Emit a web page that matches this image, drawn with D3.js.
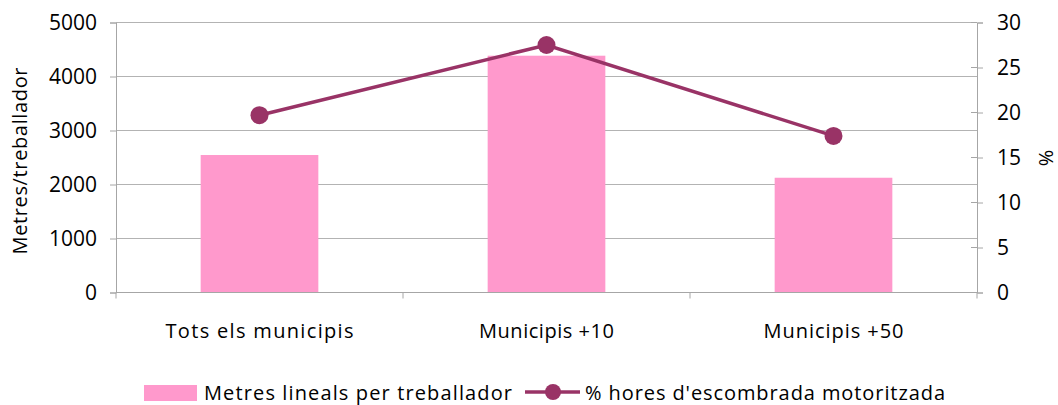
<!DOCTYPE html>
<html>
<head>
  <meta charset="utf-8">
  <script src="https://d3js.org/d3.v7.min.js"></script>
  <style>
    body { margin: 0; background: #fff; }
    svg { font-family: "Open Sans", "Noto Sans", sans-serif; }
  </style>
</head>
<body>
  <svg width="1058" height="405"></svg>
  <script>
    // dades
    const categories = ["Tots els municipis", "Municipis +10", "Municipis +50"];
    const metres = [2546, 4385, 2125];
    const percent = [19.7, 27.5, 17.4];
    const leftTicks = [0, 1000, 2000, 3000, 4000, 5000];
    const rightTicks = [0, 5, 10, 15, 20, 25, 30];
    const catWidths = [188, 135, 140];

    const svg = d3.select("svg");
    const x0 = 116, x1 = 977, yTop = 22.5, yBot = 292.5;

    const x = d3.scaleBand().domain(categories).range([x0, x1]).paddingInner(0.59).paddingOuter(0.295);
    const yL = d3.scaleLinear().domain([0, 5000]).range([yBot, yTop]);
    const yR = d3.scaleLinear().domain([0, 30]).range([yBot, yTop]);

    // gridlines
    svg.append("g").selectAll("line").data(leftTicks).join("line")
      .attr("x1", x0).attr("x2", x1)
      .attr("y1", d => yL(d)).attr("y2", d => yL(d))
      .attr("stroke", "#b3b3b3").attr("stroke-width", 1);

    // bars
    svg.append("g").selectAll("rect").data(metres).join("rect")
      .attr("x", (d, i) => x(categories[i]))
      .attr("width", x.bandwidth())
      .attr("y", d => yL(d))
      .attr("height", d => yBot - yL(d))
      .attr("fill", "#ff99cc");

    // axes
    const gL = svg.append("g").attr("transform", `translate(${x0},0)`)
      .call(d3.axisLeft(yL).tickValues(leftTicks).tickSize(6).tickPadding(13).tickFormat(d3.format("d")));
    const gR = svg.append("g").attr("transform", `translate(${x1},0)`)
      .call(d3.axisRight(yR).tickValues(rightTicks).tickSize(6).tickPadding(14));
    rightTicks.forEach(t => {
      gR.append("line").attr("x1", -6).attr("x2", 0).attr("y1", yR(t)).attr("y2", yR(t)).attr("stroke", "#a6a6a6");
    });
    const gB = svg.append("g");
    gB.append("line").attr("x1", x0).attr("x2", x1).attr("y1", yBot).attr("y2", yBot).attr("stroke", "#a6a6a6");
    d3.range(4).forEach(i => {
      const xx = x0 + i * (x1 - x0) / 3;
      gB.append("line").attr("x1", xx).attr("x2", xx).attr("y1", yBot).attr("y2", yBot + 6).attr("stroke", "#a6a6a6");
    });
    gB.selectAll("text").data(categories).join("text")
      .attr("x", d => x(d) + x.bandwidth() / 2 - catWidths[categories.indexOf(d)] / 2)
      .attr("y", 338)
      .attr("font-size", 20)
      .attr("fill", "#000")
      .attr("textLength", (d, i) => catWidths[i])
      .attr("lengthAdjust", "spacing")
      .text(d => d);

    [gL, gR].forEach(g => {
      g.select(".domain").attr("stroke", "#a6a6a6");
      g.selectAll(".tick line").attr("stroke", "#a6a6a6");
      g.selectAll(".tick text").attr("font-size", 21).attr("fill", "#000")
        .attr("font-family", "'Open Sans', sans-serif");
    });

    // line
    const cx = i => x(categories[i]) + x.bandwidth() / 2;
    svg.append("path")
      .datum(percent)
      .attr("fill", "none")
      .attr("stroke", "#993366")
      .attr("stroke-width", 3.5)
      .attr("d", d3.line().x((d, i) => cx(i)).y(d => yR(d)));
    svg.append("g").selectAll("circle").data(percent).join("circle")
      .attr("cx", (d, i) => cx(i))
      .attr("cy", d => yR(d))
      .attr("r", 9)
      .attr("fill", "#993366");

    // axis titles
    svg.append("text")
      .attr("transform", "translate(27,161) rotate(-90)")
      .attr("x", -93.5)
      .attr("font-size", 20)
      .attr("textLength", 187)
      .attr("lengthAdjust", "spacing")
      .text("Metres/treballador");
    svg.append("text")
      .attr("transform", "translate(1046,158) rotate(90)")
      .attr("text-anchor", "middle")
      .attr("dominant-baseline", "central")
      .attr("font-size", 20)
      .text("%");

    // legend
    const lg = svg.append("g");
    lg.append("rect").attr("x", 144).attr("y", 385).attr("width", 53).attr("height", 16).attr("fill", "#ff99cc");
    lg.append("text").attr("x", 204).attr("y", 400).attr("font-size", 20)
      .attr("textLength", 308).attr("lengthAdjust", "spacing")
      .text("Metres lineals per treballador");
    lg.append("line").attr("x1", 525).attr("x2", 580).attr("y1", 392).attr("y2", 392)
      .attr("stroke", "#993366").attr("stroke-width", 3.5);
    lg.append("circle").attr("cx", 553).attr("cy", 392).attr("r", 8).attr("fill", "#993366");
    lg.append("text").attr("x", 585).attr("y", 400).attr("font-size", 20)
      .attr("textLength", 360).attr("lengthAdjust", "spacing")
      .text("% hores d'escombrada motoritzada");
  </script>
</body>
</html>
